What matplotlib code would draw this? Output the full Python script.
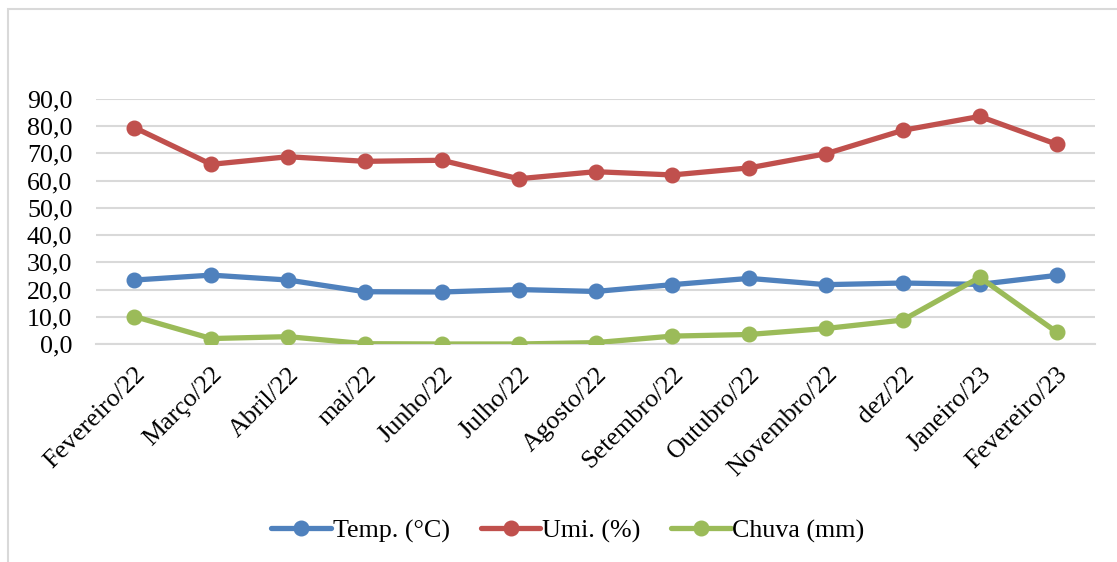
import numpy as np
import matplotlib
matplotlib.use("Agg")
import matplotlib.pyplot as plt
from matplotlib.patches import Rectangle
from matplotlib.ticker import FuncFormatter

plt.rcParams['font.family'] = ['Liberation Serif', 'DejaVu Serif']

meses = ["Fevereiro/22", "Março/22", "Abril/22", "mai/22", "Junho/22", "Julho/22",
         "Agosto/22", "Setembro/22", "Outubro/22", "Novembro/22", "dez/22",
         "Janeiro/23", "Fevereiro/23"]
temp = [23.5, 25.3, 23.5, 19.2, 19.1, 20.0, 19.3, 21.8, 24.1, 21.8, 22.4, 21.9, 25.2]
umi = [79.5, 66.0, 68.8, 67.1, 67.5, 60.7, 63.3, 62.1, 64.7, 69.9, 78.5, 83.6, 73.4]
chuva = [10.1, 2.0, 2.7, 0.1, 0.0, 0.0, 0.5, 2.9, 3.5, 5.7, 8.8, 24.5, 4.4]

W, H = 1117, 562
fig = plt.figure(figsize=(W / 100, H / 100), dpi=100)

# moldura cinza do gráfico
fig.patches.append(Rectangle((8 / W, -0.1), 1.2, 1 - 9 / H + 0.1, transform=fig.transFigure,
                             fill=False, edgecolor="#d9d9d9", linewidth=1.5))

ax = fig.add_axes([96 / W, 1 - 344 / H, (1095 - 96) / W, (344 - 99) / H])
x = np.arange(len(meses))

series = [(temp, "Temp. (°C)", "#4f81bd"),
          (umi, "Umi. (%)", "#c0504d"),
          (chuva, "Chuva (mm)", "#9bbb59")]
for vals, nome, cor in series:
    ax.plot(x, vals, color=cor, lw=3.8, marker="o", ms=10.5, label=nome,
            solid_capstyle="round", zorder=3)

ax.set_xlim(-0.5, len(meses) - 0.5)
ax.set_ylim(0, 90)
ax.set_yticks(np.arange(0, 91, 10))
ax.yaxis.set_major_formatter(FuncFormatter(lambda v, p: f"{v:.1f}".replace(".", ",")))
ax.grid(axis="y", color="#d9d9d9", lw=1.5, zorder=0)
for s in ax.spines.values():
    s.set_visible(False)
ax.spines["bottom"].set_visible(True)
ax.spines["bottom"].set_color("#d9d9d9")
ax.spines["bottom"].set_linewidth(1.5)
ax.tick_params(axis="y", length=0, pad=17, labelsize=18.7)
ax.tick_params(axis="x", length=0, pad=14, labelsize=18.7)
ax.set_xticks(x)
ax.set_xticklabels(meses, rotation=45, ha="right", va="top", rotation_mode="anchor")

fig.legend(loc="center", bbox_to_anchor=(568 / W, 1 - 531 / H), ncol=3, frameon=False,
           fontsize=18.7, handlelength=2.3, handletextpad=0.05, columnspacing=1.2)

fig.savefig("out.png", dpi=100, facecolor="white")
